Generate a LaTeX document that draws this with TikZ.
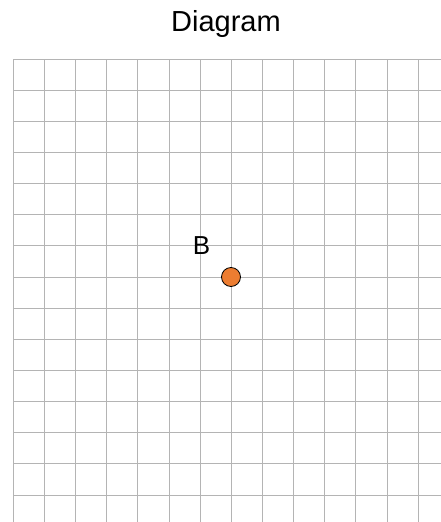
\documentclass[tikz,border=0pt]{standalone}
\usepackage{fontspec}
\setmainfont{Liberation Sans}
\usetikzlibrary{positioning}
\definecolor{gridgray}{HTML}{B4B4B4}
\definecolor{dotorange}{HTML}{ED7D31}

\begin{document}
\begin{tikzpicture}[x=1pt, y=-1pt,
    % Light grid lines
    gridline/.style={draw=gridgray, line width=1pt},
    % Orange point
    point/.style={circle, draw=black, fill=dotorange, minimum size=19pt, inner sep=0pt, line width=0.8pt},
    % Texts
    pointlabel/.style={font=\fontsize{26}{31}\selectfont, inner sep=0pt},
    heading/.style={font=\fontsize{29}{34}\selectfont, inner sep=0pt}
]
    \useasboundingbox (0,0) rectangle (441,522);
    \clip (0,0) rectangle (441,522);

    % --- GRID ---
    \foreach \i in {0,...,14} {
        \draw[gridline] (13.3+31.15*\i, 59) -- (13.3+31.15*\i, 530);
        \draw[gridline] (13.3, 59+31.15*\i) -- (450, 59+31.15*\i);
    }

    % --- TITLE ---
    \node[heading, anchor=base] (title) at (226, 31.7) {Diagram};

    % --- POINT B ---
    \node[point] (B) at (231, 277) {};
    \node[pointlabel] (Blabel) at ([xshift=-29.5pt, yshift=31pt]B.center) {B};

\end{tikzpicture}
\end{document}
